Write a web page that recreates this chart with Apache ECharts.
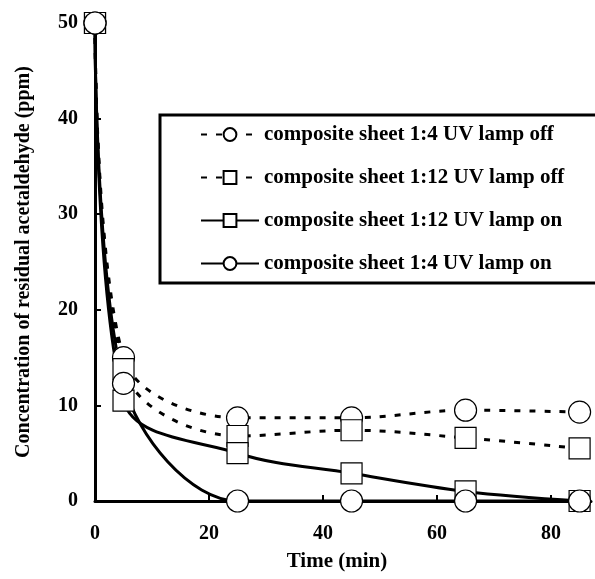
<!DOCTYPE html>
<html>
<head>
<meta charset="utf-8">
<script src="https://cdn.jsdelivr.net/npm/echarts@6/dist/echarts.min.js"></script>
<style>
  html, body { margin: 0; padding: 0; background: #fff; }
  #chart { width: 595px; height: 579px; }
</style>
</head>
<body>
<div id="chart"></div>
<script>
// time points (min)
const times = [0, 5, 25, 45, 65, 85];

// residual acetaldehyde (ppm)
const off14 = [50, 15.0, 8.7, 8.7, 9.5, 9.3];
const off112 = [50, 13.8, 6.8, 7.4, 6.6, 5.5];
const on112 = [50, 10.5, 5.0, 2.9, 1.0, 0];
const on14 = [50, 12.3, 0, 0, 0, 0];

const seriesNames = [
    'composite sheet 1:4 UV lamp off',
    'composite sheet 1:12 UV lamp off',
    'composite sheet 1:12 UV lamp on',
    'composite sheet 1:4 UV lamp on'
];

const xTickLabels = [0, 20, 40, 60, 80];
const xTicks = [20, 40, 60, 80];

const font = 'Liberation Serif';

function pairs(values) {
    return values.map(function (v, i) {
        return [times[i], v];
    });
}

function makeSeries(name, values, symbol, dashed) {
    return {
        name: name,
        type: 'line',
        data: pairs(values),
        smooth: 0.35,
        symbol: symbol,
        symbolSize: symbol === 'circle' ? 22 : 21,
        itemStyle: {
            color: '#fff',
            borderColor: '#000',
            borderWidth: 1.2
        },
        lineStyle: {
            color: '#000',
            width: 3,
            type: dashed ? [6, 9] : 'solid'
        },
        emphasis: { disabled: true }
    };
}

const option = {
    animation: false,
    backgroundColor: '#fff',
    grid: {
        left: 95,
        right: 4,
        top: 23,
        bottom: 78
    },
    legend: {
        orient: 'vertical',
        left: 160,
        top: 115,
        padding: [9, 80, 9, 40],
        itemGap: 22,
        itemWidth: 58,
        itemHeight: 16,
        borderColor: '#000',
        borderWidth: 3,
        textStyle: {
            color: '#000',
            fontFamily: font,
            fontWeight: 'bold',
            fontSize: 21
        },
        data: seriesNames
    },
    xAxis: {
        type: 'value',
        min: 0,
        max: 87,
        interval: 20,
        name: 'Time (min)',
        nameLocation: 'middle',
        nameGap: 50,
        nameTextStyle: {
            color: '#000',
            fontFamily: font,
            fontWeight: 'bold',
            fontSize: 21,
            padding: [0, 12, 0, 0]
        },
        splitLine: { show: false },
        axisLine: { lineStyle: { color: '#000', width: 3 } },
        axisTick: {
            inside: true,
            length: 6,
            lineStyle: { color: '#000', width: 2 },
            customValues: xTicks
        },
        axisLabel: {
            color: '#000',
            fontFamily: font,
            fontWeight: 'bold',
            fontSize: 20,
            margin: 23,
            customValues: xTickLabels
        }
    },
    yAxis: {
        type: 'value',
        min: 0,
        max: 50,
        interval: 10,
        name: 'Concentration of residual acetaldehyde (ppm)',
        nameLocation: 'middle',
        nameGap: 61,
        nameTextStyle: {
            color: '#000',
            fontFamily: font,
            fontWeight: 'bold',
            fontSize: 20
        },
        splitLine: { show: false },
        axisLine: { show: true, lineStyle: { color: '#000', width: 3 } },
        axisTick: {
            show: true,
            inside: true,
            length: 6,
            lineStyle: { color: '#000', width: 2 }
        },
        axisLabel: {
            color: '#000',
            fontFamily: font,
            fontWeight: 'bold',
            fontSize: 20,
            margin: 17
        }
    },
    series: [
        makeSeries(seriesNames[0], off14, 'circle', true),
        makeSeries(seriesNames[1], off112, 'rect', true),
        makeSeries(seriesNames[2], on112, 'rect', false),
        makeSeries(seriesNames[3], on14, 'circle', false)
    ]
};

const chart = echarts.init(document.getElementById('chart'), null, { renderer: 'canvas' });
chart.setOption(option);
</script>
</body>
</html>
